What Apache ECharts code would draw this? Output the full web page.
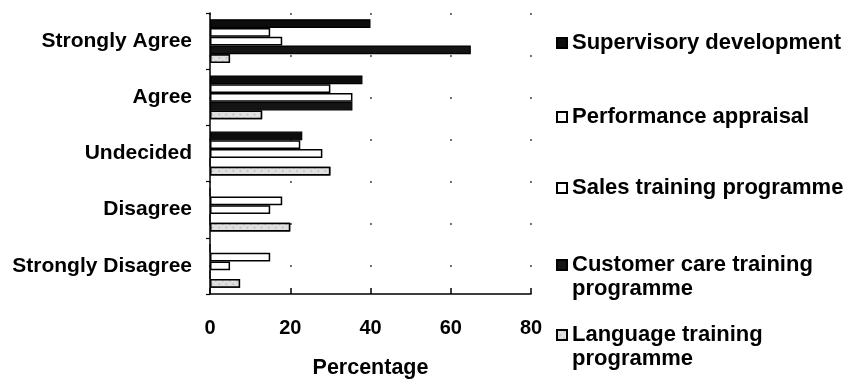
<!DOCTYPE html>
<html>
<head>
<meta charset="utf-8">
<style>
  html, body { margin: 0; padding: 0; background: #fff; }
  #chart { width: 845px; height: 379px; }
</style>
<script src="https://cdn.jsdelivr.net/npm/echarts@6/dist/echarts.min.js"></script>
</head>
<body>
<div id="chart"></div>
<script>
// Survey responses (percentage of respondents) per training programme
const categories = ['Strongly Agree', 'Agree', 'Undecided', 'Disagree', 'Strongly Disagree'];
const supervisoryDevelopment = [40, 38, 23, 0, 0];
const performanceAppraisal = [15, 30, 22.5, 18, 15];
const salesTraining = [18, 35.5, 28, 15, 5];
const customerCareTraining = [65, 35.5, 0, 0, 0];
const languageTraining = [5, 13, 30, 20, 7.5];
const xTicks = [0, 20, 40, 60, 80];

const FONT = "'Liberation Sans', Arial, sans-serif";

const seriesDefs = [
  { name: 'Supervisory development', data: supervisoryDevelopment,
    style: { color: '#0d0d0d', borderColor: '#000', borderWidth: 1.2 } },
  { name: 'Performance appraisal', data: performanceAppraisal,
    style: { color: '#ffffff', borderColor: '#000', borderWidth: 1.5 } },
  { name: 'Sales training programme', data: salesTraining,
    style: { color: '#ffffff', borderColor: '#000', borderWidth: 1.5 } },
  { name: 'Customer care training programme', data: customerCareTraining,
    style: { color: '#141414', borderColor: '#000', borderWidth: 1.2 } },
  { name: 'Language training programme', data: languageTraining,
    style: { color: '#dcdcdc', borderColor: '#000', borderWidth: 1.5,
      decal: { symbol: 'rect', symbolSize: 0.6, dashArrayX: [2, 3], dashArrayY: [2, 3],
               rotation: Math.PI / 4, color: 'rgba(0,0,0,0.4)', backgroundColor: '#e0e0e0' } } }
];

// Legend entries stacked on the right. Two-line entries get a blank first line so the
// swatch (centred on the text block) sits beside the first visible line.
const legendLayout = [
  { name: 'Supervisory development', top: 31, text: 'Supervisory development' },
  { name: 'Performance appraisal', top: 105, text: 'Performance appraisal' },
  { name: 'Sales training programme', top: 176, text: 'Sales training programme' },
  { name: 'Customer care training programme', top: 229, text: '\nCustomer care training\nprogramme' },
  { name: 'Language training programme', top: 299, text: '\nLanguage training\nprogramme' }
];

const legends = legendLayout.map(l => ({
  data: [l.name],
  left: 556,
  top: l.top,
  padding: 0,
  itemWidth: 10,
  itemHeight: 10,
  itemGap: 0,
  icon: 'rect',
  selectedMode: false,
  formatter: () => l.text,
  textStyle: {
    fontFamily: FONT, fontWeight: 'bold', fontSize: 22, color: '#000',
    lineHeight: 24
  }
}));

const chart = echarts.init(document.getElementById('chart'), null, { renderer: 'canvas' });

chart.setOption({
  animation: false,
  backgroundColor: '#fff',
  legend: legends,
  grid: { left: 210, right: 314, top: 13, bottom: 85, containLabel: false, outerBoundsMode: 'none' },
  xAxis: {
    type: 'value',
    min: xTicks[0],
    max: xTicks[xTicks.length - 1],
    interval: 20,
    name: 'Percentage',
    nameLocation: 'middle',
    nameGap: 63,
    nameTextStyle: { fontFamily: FONT, fontWeight: 'bold', fontSize: 21.5, color: '#000' },
    axisLine: { show: true, lineStyle: { color: '#000', width: 1.5 } },
    axisTick: { show: true, inside: true, length: 6, lineStyle: { color: '#000', width: 1.5 } },
    axisLabel: { margin: 24, fontFamily: FONT, fontWeight: 'bold', fontSize: 20, color: '#000' },
    splitLine: { show: true, lineStyle: { color: '#444', width: 1.5, type: [2, 40] } }
  },
  yAxis: {
    type: 'category',
    data: categories,
    inverse: true,
    axisLine: { show: true, lineStyle: { color: '#000', width: 1.5 } },
    axisTick: { show: true, length: 4, lineStyle: { color: '#000', width: 1.2 } },
    axisLabel: { margin: 18, fontFamily: FONT, fontWeight: 'bold', fontSize: 21, color: '#000' }
  },
  series: seriesDefs.map(s => ({
    name: s.name,
    type: 'bar',
    data: s.data,
    barGap: '0%',
    barCategoryGap: '22%',
    itemStyle: s.style
  }))
});
</script>
</body>
</html>
